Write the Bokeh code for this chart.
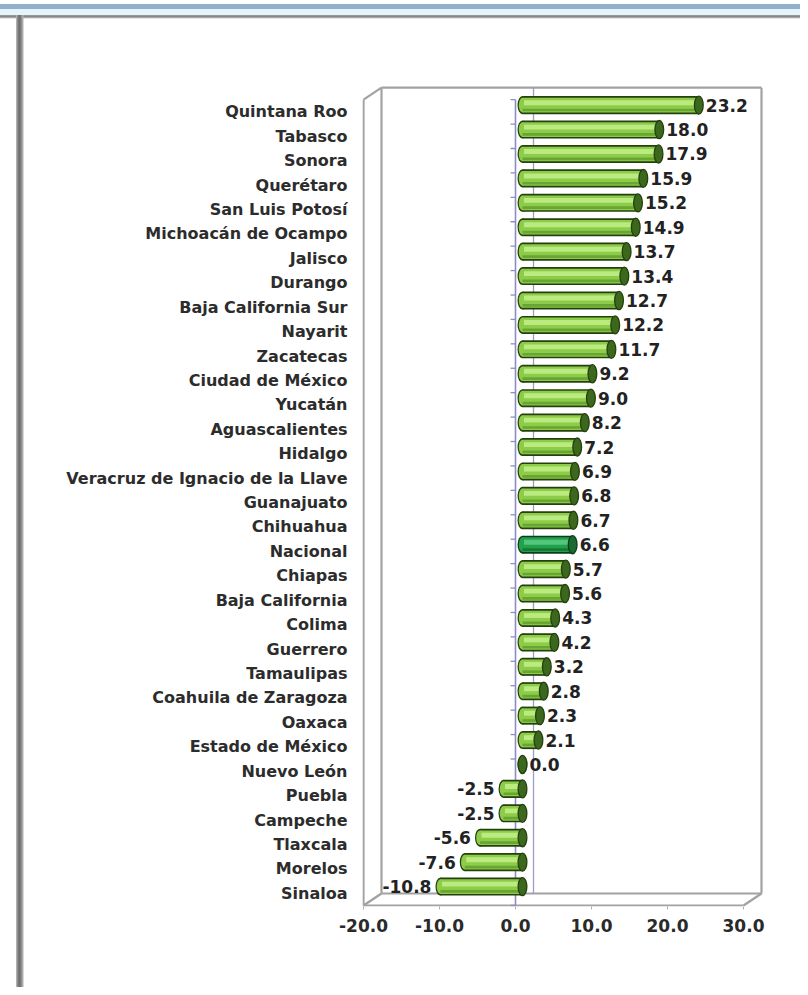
import numpy as np
from bokeh.plotting import figure
from bokeh.models import ColumnDataSource, Range1d, FixedTicker, NumeralTickFormatter
from bokeh.transform import dodge
from bokeh.core.properties import value
from bokeh.embed import file_html
from bokeh.resources import INLINE

# ---------------- data ----------------
estados = [
    "Quintana Roo", "Tabasco", "Sonora", "Querétaro", "San Luis Potosí",
    "Michoacán de Ocampo", "Jalisco", "Durango", "Baja California Sur", "Nayarit",
    "Zacatecas", "Ciudad de México", "Yucatán", "Aguascalientes", "Hidalgo",
    "Veracruz de Ignacio de la Llave", "Guanajuato", "Chihuahua", "Nacional", "Chiapas",
    "Baja California", "Colima", "Guerrero", "Tamaulipas", "Coahuila de Zaragoza",
    "Oaxaca", "Estado de México", "Nuevo León", "Puebla", "Campeche",
    "Tlaxcala", "Morelos", "Sinaloa",
]
valores = [
    23.2, 18.0, 17.9, 15.9, 15.2,
    14.9, 13.7, 13.4, 12.7, 12.2,
    11.7, 9.2, 9.0, 8.2, 7.2,
    6.9, 6.8, 6.7, 6.6, 5.7,
    5.6, 4.3, 4.2, 3.2, 2.8,
    2.3, 2.1, 0.0, -2.5, -2.5,
    -5.6, -7.6, -10.8,
]
x_ticks = [-20, -10, 0, 10, 20, 30]
destacado = "Nacional"

# ---------------- layout constants ----------------
W, H = 800, 987
MB_L, MB_R, MB_T, MB_B = 362, 36, 85, 81
PX = 7.6        # px per unit on x
RY = 24.42      # px per row
XMIN, XMAX = -20, 30
n = len(estados)
YMIN, YMAX = -0.5, n - 0.5
DX = 18 / PX    # 3D depth in x units
DY = 12 / RY    # 3D depth in rows
BAR_DX = 0.92
BAR_DY = 0.275

fw = W - MB_L - MB_R
fh = H - MB_T - MB_B
x0 = XMIN - 1 / PX
y0 = YMIN - 1 / RY
x_range = Range1d(x0, x0 + fw / PX)
y_range = Range1d(y0, y0 + fh / RY)

v = np.array(valores, dtype=float)
ypos = np.arange(n)[::-1].astype(float)
is_nat = np.array([e == destacado for e in estados])

src = ColumnDataSource(dict(
    y=ypos,
    lo=np.minimum(v, 0.0),
    hi=np.maximum(v, 0.0),
    lx=np.where(v >= 0, np.maximum(v, 0.0), np.minimum(v, 0.0)),
    label=[f"{x:.1f}" for x in valores],
    ta=["left" if x >= 0 else "right" for x in valores],
    xo=[7 if x >= 0 else -9 for x in valores],
    body=np.where(is_nat, "#22a04c", "#8ccc48"),
    hl=np.where(is_nat, "#52c67c", "#bbea80"),
    shade=np.where(is_nat, "#167a36", "#68a532"),
    edge=np.where(is_nat, "#0c3d1a", "#25400e"),
    cap=np.where(is_nat, "#1b6a33", "#3b681c"),
))

p = figure(width=W, height=H, output_backend="svg", toolbar_location=None,
           x_range=x_range, y_range=y_range,
           min_border_left=MB_L, min_border_right=MB_R,
           min_border_top=MB_T, min_border_bottom=MB_B)
p.outline_line_color = None
p.grid.visible = False
p.background_fill_color = "white"
p.border_fill_color = None
p.styles = {
    "background": (
        "linear-gradient(to right, rgba(0,0,0,0) 16px, #c4c4c4 16px, #7c7c7c 18px, "
        "#6e6e6e 20px, #b4b4b4 23px, rgba(0,0,0,0) 24px) 0 15px / 100% 100% no-repeat, "
        "linear-gradient(to bottom, #ffffff 0px, #ffffff 4px, #93afcb 4px, #93afcb 9px, "
        "#e4f4fb 9px, #e4f4fb 15px, #a0a0a0 15px, #7e7e7e 17px, #d0d0d0 18px, "
        "#ffffff 19px) 0 0 / 100% 100% no-repeat"
    ),
}

# ---------------- axes ----------------
p.xaxis.ticker = FixedTicker(ticks=x_ticks)
p.xaxis.formatter = NumeralTickFormatter(format="0.0")
p.xaxis.axis_line_color = None
p.xaxis.major_tick_out = 3
p.xaxis.major_tick_in = 0
p.xaxis.major_tick_line_color = "#b0b0b0"
p.xaxis.minor_tick_line_color = None
p.xaxis.major_label_standoff = 9
p.xaxis.major_label_text_font = "DejaVu Sans"
p.xaxis.major_label_text_font_size = "17px"
p.xaxis.major_label_text_font_style = "bold"
p.xaxis.major_label_text_color = "#2a2a2a"

p.yaxis.ticker = FixedTicker(ticks=list(ypos))
p.yaxis.major_label_overrides = {int(yy): e for yy, e in zip(ypos, estados)}
p.yaxis.axis_line_color = None
p.yaxis.major_tick_line_color = None
p.yaxis.minor_tick_line_color = None
p.yaxis.major_tick_out = 0
p.yaxis.major_label_standoff = 15
p.yaxis.major_label_text_font = "DejaVu Sans"
p.yaxis.major_label_text_font_size = "16px"
p.yaxis.major_label_text_font_style = "bold"
p.yaxis.major_label_text_color = "#2c2c2c"

# ---------------- 3D box ----------------
box_col = "#a2a2a2"
bx = XMIN + DX
by = YMIN + DY
ty = YMAX + DY
rx = XMAX + DX
edges_x = [
    [bx, bx], [bx, rx], [rx, rx], [bx, rx],        # back wall
    [XMIN, XMIN], [XMIN, bx], [XMIN, bx],           # left wall
    [XMIN, XMAX], [XMAX, rx],                       # floor front
]
edges_y = [
    [by, ty], [ty, ty], [by, ty], [by, by],
    [YMIN, YMAX], [YMAX, ty], [YMIN, by],
    [YMIN, YMIN], [YMIN, by],
]
p.multi_line(xs=edges_x, ys=edges_y, line_color=box_col, line_width=2.2)

# zero lines (back and front) with row ticks
p.line(x=[DX, DX], y=[by, ty], line_color="#9c9cc4", line_width=1.3)
p.line(x=[0, 0], y=[YMIN, YMAX], line_color="#8c8cc6", line_width=1.6)
bnd = np.arange(n + 1) - 0.5
p.segment(x0=np.full(len(bnd), -0.65), x1=np.zeros(len(bnd)), y0=bnd, y1=bnd,
          line_color="#8c8cc6", line_width=1.3)

# ---------------- cylinders ----------------
yb = dodge("y", BAR_DY)
lo = dodge("lo", BAR_DX)
hi = dodge("hi", BAR_DX)
p.hbar(y=yb, left=lo, right=hi, height=0.74, fill_color="edge", line_color=None, source=src)
p.ellipse(x=lo, y=yb, width=1.3, height=0.74, fill_color="edge", line_color=None, source=src)
p.hbar(y=yb, left=lo, right=hi, height=0.6, fill_color="body", line_color=None, source=src)
p.ellipse(x=lo, y=yb, width=0.98, height=0.6, fill_color="body", line_color=None, source=src)
p.hbar(y=dodge("y", BAR_DY - 0.2), left=lo, right=hi, height=0.11,
       fill_color="shade", line_color=None, source=src)
p.hbar(y=dodge("y", BAR_DY + 0.1), left=dodge("lo", BAR_DX + 0.2), right=hi, height=0.2,
       fill_color="hl", line_color=None, source=src)
p.ellipse(x=hi, y=yb, width=1.15, height=0.74, fill_color="cap", line_color="edge",
          line_width=1.3, source=src)

# value labels
p.text(x=dodge("lx", BAR_DX), y=yb, text="label", text_align="ta", x_offset="xo",
       text_baseline="middle", text_font=value("DejaVu Sans"), text_font_size="17px",
       text_font_style="bold", text_color="#222222", source=src)

open("out.html", "w").write(file_html(p, INLINE))
